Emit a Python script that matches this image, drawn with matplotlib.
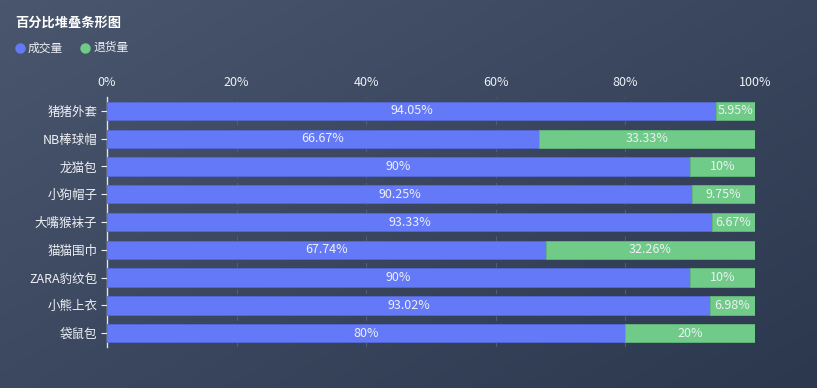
import numpy as np
import matplotlib.pyplot as plt
from matplotlib.colors import LinearSegmentedColormap
from matplotlib.lines import Line2D

plt.rcParams['font.family'] = ['Noto Sans CJK SC', 'DejaVu Sans']

# Données
categories = ['猪猪外套', 'NB棒球帽', '龙猫包', '小狗帽子', '大嘴猴袜子',
              '猫猫围巾', 'ZARA豹纹包', '小熊上衣', '袋鼠包']
deal = [94.05, 66.67, 90, 90.25, 93.33, 67.74, 90, 93.02, 80]
ret = [5.95, 33.33, 10, 9.75, 6.67, 32.26, 10, 6.98, 20]
deal_labels = ['94.05%', '66.67%', '90%', '90.25%', '93.33%', '67.74%', '90%', '93.02%', '80%']
ret_labels = ['5.95%', '33.33%', '10%', '9.75%', '6.67%', '32.26%', '10%', '6.98%', '20%']
xticks = [0, 20, 40, 60, 80, 100]

blue = '#6479f8'
green = '#6fcb87'
txt = '#eef0f5'

fig = plt.figure(figsize=(8.17, 3.88), dpi=100)

# fond en dégradé diagonal
bg = fig.add_axes([0, 0, 1, 1], zorder=-10)
gx, gy = np.meshgrid(np.linspace(0, 1, 200), np.linspace(0, 1, 100))
g = (gx * 0.55 + gy * 0.45)
cmap = LinearSegmentedColormap.from_list('bg', ['#4a566e', '#2b384e'])
bg.imshow(g, cmap=cmap, aspect='auto', extent=[0, 1, 0, 1], origin='upper')
bg.axis('off')

ax = fig.add_axes([107/817, 1 - 347/388, 648/817, 250/388])
ax.set_facecolor('none')

y = np.arange(len(categories))
ax.barh(y, deal, height=0.66, color=blue, edgecolor='#5568d8', linewidth=0.6, zorder=3)
ax.barh(y, ret, left=deal, height=0.66, color=green, edgecolor='#62b97a', linewidth=0.6, zorder=3)

for i in range(len(categories)):
    ax.text(deal[i] / 2, y[i], deal_labels[i], ha='center', va='center',
            color=txt, fontsize=9, zorder=4)
    ax.text(deal[i] + ret[i] / 2, y[i], ret_labels[i], ha='center', va='center',
            color=txt, fontsize=9, zorder=4)

ax.set_xlim(0, 100)
ax.set_ylim(len(categories) - 0.5, -0.5)
ax.set_xticks(xticks)
ax.set_xticklabels([f'{t}%' for t in xticks])
ax.xaxis.tick_top()
ax.tick_params(axis='x', length=0, colors=txt, labelsize=9, pad=6)
ax.set_yticks(y)
ax.set_yticklabels(categories)
ax.tick_params(axis='y', length=4, colors=txt, labelsize=9, pad=3)
for t in ax.get_yticklines():
    t.set_color('#c8ccd6')

ax.grid(axis='x', color='#535d72', linestyle=(0, (4, 4)), linewidth=0.8, zorder=0)
for s in ['top', 'right', 'bottom']:
    ax.spines[s].set_visible(False)
ax.spines['left'].set_color('#e0e3ea')
ax.spines['left'].set_linewidth(1)

# titre et légende
fig.text(15/817, 1 - 23/388, '百分比堆叠条形图', color='white', fontsize=9.5,
         fontweight='bold', va='center', ha='left')
fig.add_artist(Line2D([20/817], [1 - 48/388], marker='o', markersize=6.5, color=blue,
                      linestyle='none', transform=fig.transFigure))
fig.text(28/817, 1 - 48/388, '成交量', color=txt, fontsize=8.5, va='center', ha='left')
fig.add_artist(Line2D([85/817], [1 - 48/388], marker='o', markersize=6.5, color=green,
                      linestyle='none', transform=fig.transFigure))
fig.text(93/817, 1 - 48/388, '退货量', color=txt, fontsize=8.5, va='center', ha='left')

plt.savefig('out.png', dpi=100)
